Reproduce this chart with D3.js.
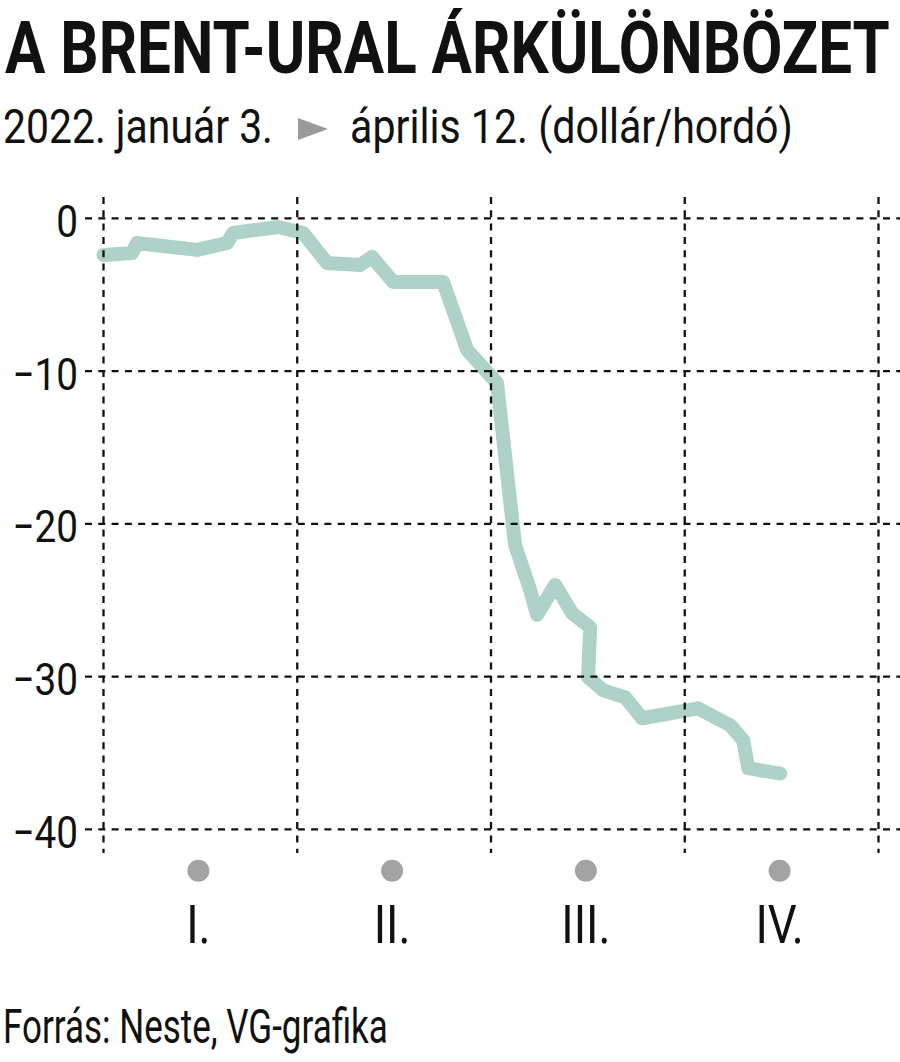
<!DOCTYPE html>
<html>
<head>
<meta charset="utf-8">
<script src="https://cdn.jsdelivr.net/npm/d3@7"></script>
<style>
  html, body { margin: 0; padding: 0; background: #fff; }
  svg { display: block; }
  text { font-family: Roboto, "Open Sans", sans-serif; fill: #111; }
</style>
</head>
<body>
<svg id="chart" width="900" height="1062"></svg>
<script>
// ---- data ----
const title = "A BRENT-URAL ÁRKÜLÖNBÖZET";
const subtitleStart = "2022. január 3.";
const subtitleEnd = "április 12. (dollár/hordó)";
const source = "Forrás: Neste, VG-grafika";

// position in months since 1 January 2022 (0 = Jan start, 4 = May start)
const monthPos = [0.00, 0.147, 0.173, 0.483, 0.638, 0.669, 0.901, 1.030, 1.154, 1.324,
                  1.386, 1.495, 1.753, 1.877, 2.031, 2.124, 2.202, 2.238, 2.331, 2.419,
                  2.512, 2.501, 2.579, 2.693, 2.780, 3.069, 3.235, 3.302, 3.328, 3.493];
// Brent-Ural spread, dollar/barrel
const spread = [-2.40, -2.27, -1.62, -2.07, -1.62, -0.96, -0.57, -0.96, -2.93, -3.06,
                -2.53, -4.17, -4.17, -8.62, -10.78, -21.38, -24.33, -25.96, -24.00, -25.85,
                -26.77, -30.04, -30.90, -31.36, -32.73, -32.08, -33.20, -34.18, -36.00, -36.35];

const yTicks = [0, -10, -20, -30, -40];
const monthBounds = [0, 1, 2, 3, 4];
const monthLabels = ["I.", "II.", "III.", "IV."];

// ---- drawing ----
const svg = d3.select("#chart");
const x = d3.scaleLinear().domain([0, 4]).range([103.5, 878.5]);
const y = d3.scaleLinear().domain([0, -40]).range([218.3, 829.3]);

const gridColor = "#111";
const dash = "7,6.3";

// condensed text: draw at natural width, then squeeze horizontally to fit a width
function fitText(px, py, str, size, weight, width) {
  const g = svg.append("g");
  const t = g.append("text")
    .attr("x", 0).attr("y", 0)
    .attr("font-size", size).attr("font-weight", weight)
    .text(str);
  const w = t.node().getComputedTextLength();
  const s = width / w;
  g.attr("transform", `translate(${px},${py}) scale(${s},1)`);
  return g;
}

// title
fitText(5, 73, title, 72, 700, 885);

// subtitle
fitText(3, 143, subtitleStart, 49, 400, 270);
svg.append("path")
  .attr("d", "M298,118 L328,129 L298,140 Z")
  .attr("fill", "#9a9a9a");
fitText(350, 143, subtitleEnd, 49, 400, 443);

// line
const line = d3.line()
  .x((d, i) => x(monthPos[i]))
  .y(d => y(d));
svg.append("path")
  .datum(spread)
  .attr("d", line)
  .attr("fill", "none")
  .attr("stroke", "#aed2c8")
  .attr("stroke-width", 14)
  .attr("stroke-linejoin", "round")
  .attr("stroke-linecap", "round");

// horizontal grid + y labels
const gy = svg.append("g");
gy.selectAll("line").data(yTicks).join("line")
  .attr("x1", 85).attr("x2", 900)
  .attr("y1", d => y(d)).attr("y2", d => y(d))
  .attr("stroke", gridColor).attr("stroke-width", 2.3)
  .attr("stroke-dasharray", dash);
gy.selectAll("g.lab").data(yTicks).join("g")
  .attr("class", "lab")
  .attr("transform", d => `translate(78,${y(d) + 18.5}) scale(0.86,1)`)
  .append("text")
  .attr("text-anchor", "end")
  .attr("font-size", 45)
  .text(d => d === 0 ? "0" : "\u2212" + Math.abs(d));

// vertical grid
svg.append("g").selectAll("line").data(monthBounds).join("line")
  .attr("x1", d => x(d)).attr("x2", d => x(d))
  .attr("y1", 197).attr("y2", 853)
  .attr("stroke", gridColor).attr("stroke-width", 2.3)
  .attr("stroke-dasharray", dash);

// month dots and labels
const mg = svg.append("g");
mg.selectAll("circle").data(monthLabels).join("circle")
  .attr("cx", (d, i) => x(i + 0.5) - 2)
  .attr("cy", 870.7)
  .attr("r", 11)
  .attr("fill", "#a3a3a3");
mg.selectAll("g.ml").data(monthLabels).join("g")
  .attr("class", "ml")
  .attr("transform", (d, i) => `translate(${x(i + 0.5) - 2},943) scale(0.86,1)`)
  .append("text")
  .attr("text-anchor", "middle")
  .attr("font-size", 53)
  .text(d => d);

// source
fitText(3, 1043, source, 49, 400, 385);
</script>
</body>
</html>
